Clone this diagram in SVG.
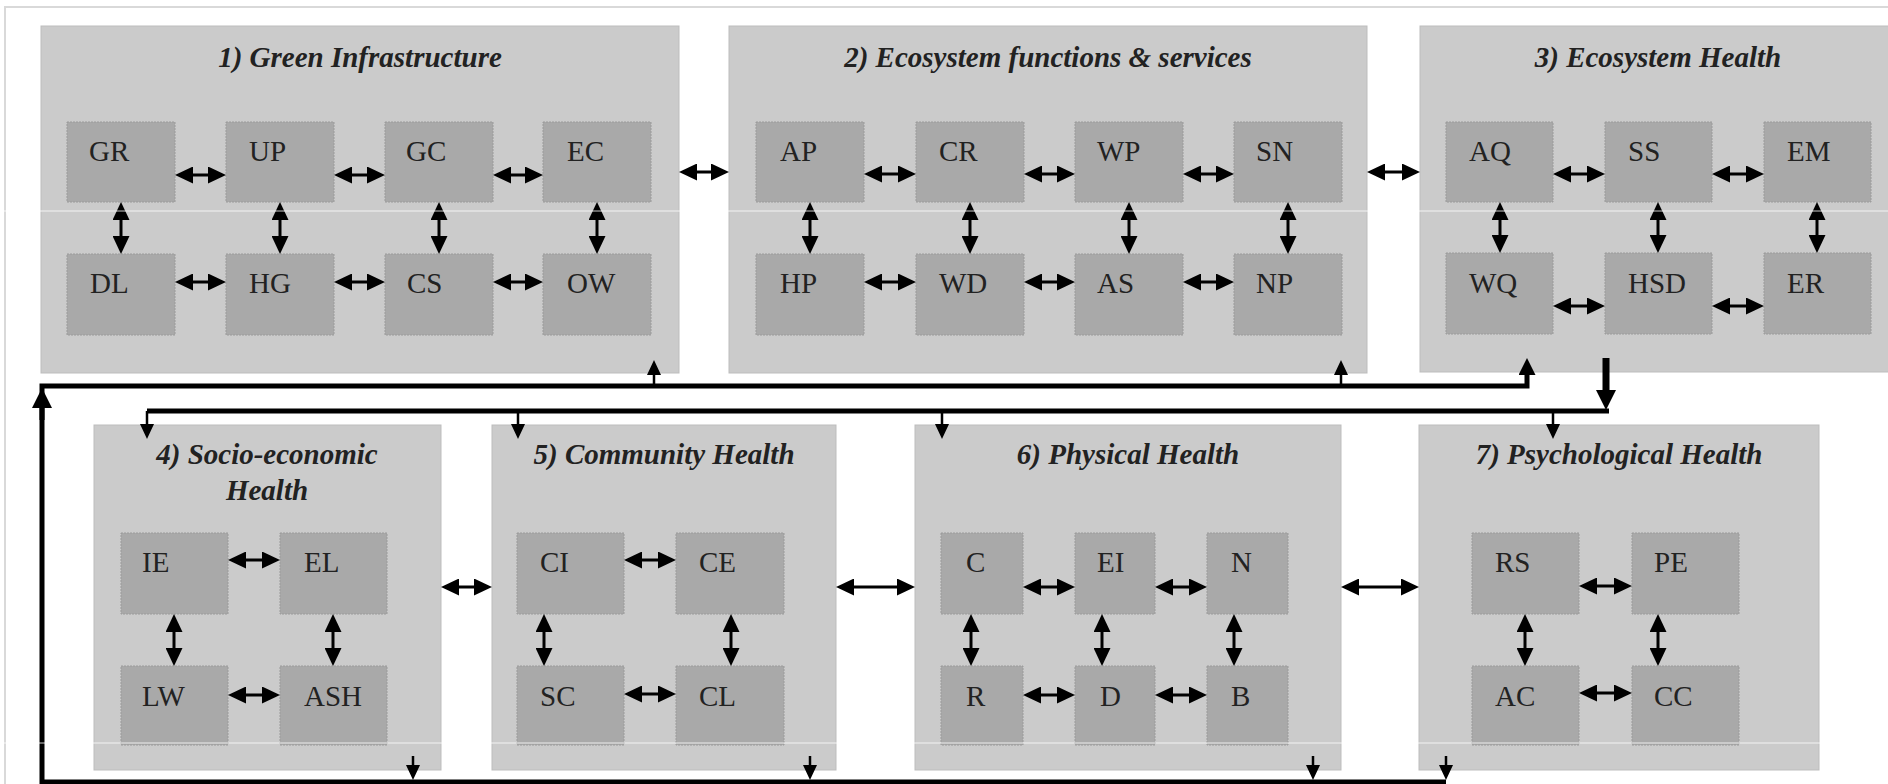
<svg xmlns="http://www.w3.org/2000/svg" width="1888" height="784" viewBox="0 0 1888 784">
<style>
.grp{fill:#cbcbcb;stroke:#bdbdbd;stroke-width:1}
.box{fill:#a9a9a9;stroke:#9b9b9b;stroke-width:1;stroke-dasharray:2 1}
.lbl{font-family:"Liberation Serif","Times New Roman",serif;font-size:29px;fill:#222}
.ttl{font-family:"Liberation Serif","Times New Roman",serif;font-size:29px;font-weight:bold;font-style:italic;fill:#222;text-anchor:middle}
.a2{stroke:#000;stroke-width:3;fill:none;marker-start:url(#ah);marker-end:url(#ah)}
.fb{stroke:#000;stroke-width:5;fill:none}
.br{stroke:#000;stroke-width:2.5;fill:none;marker-end:url(#ahs)}
.seam{stroke:#fff;stroke-width:1;opacity:0.8}
</style>
<defs>
<marker id="ah" viewBox="0 0 18 17" refX="14" refY="8.5" markerWidth="18" markerHeight="17" markerUnits="userSpaceOnUse" orient="auto-start-reverse"><path d="M0,0 L18,8.5 L0,17 z" fill="#000"/></marker>
<marker id="ahs" viewBox="0 0 15 14" refX="10" refY="7" markerWidth="15" markerHeight="14" markerUnits="userSpaceOnUse" orient="auto"><path d="M0,0 L15,7 L0,14 z" fill="#000"/></marker>
<marker id="ahm" viewBox="0 0 17 17" refX="8" refY="8.5" markerWidth="17" markerHeight="17" markerUnits="userSpaceOnUse" orient="auto"><path d="M0,0 L17,8.5 L0,17 z" fill="#000"/></marker>
<marker id="ahb" viewBox="0 0 20 20" refX="12" refY="10" markerWidth="20" markerHeight="20" markerUnits="userSpaceOnUse" orient="auto"><path d="M0,0 L20,10 L0,20 z" fill="#000"/></marker>
</defs>
<rect x="0" y="0" width="1888" height="784" fill="#fff"/>
<path d="M5,784 V7 H1888" stroke="#d9d9d9" stroke-width="2" fill="none"/>

<g id="g1">
<rect class="grp" x="41" y="26" width="638" height="347"/>
<text class="ttl" x="360" y="67">1) Green Infrastructure</text>
<g id="n-GR"><rect class="box" x="67" y="122" width="108" height="80"/><text class="lbl" x="89" y="161">GR</text></g>
<g id="n-UP"><rect class="box" x="226" y="122" width="108" height="80"/><text class="lbl" x="249" y="161">UP</text></g>
<g id="n-GC"><rect class="box" x="385" y="122" width="108" height="80"/><text class="lbl" x="406" y="161">GC</text></g>
<g id="n-EC"><rect class="box" x="543" y="122" width="108" height="80"/><text class="lbl" x="567" y="161">EC</text></g>
<g id="n-DL"><rect class="box" x="67" y="254" width="108" height="81"/><text class="lbl" x="90" y="293">DL</text></g>
<g id="n-HG"><rect class="box" x="226" y="254" width="108" height="81"/><text class="lbl" x="249" y="293">HG</text></g>
<g id="n-CS"><rect class="box" x="385" y="254" width="108" height="81"/><text class="lbl" x="407" y="293">CS</text></g>
<g id="n-OW"><rect class="box" x="543" y="254" width="108" height="81"/><text class="lbl" x="567" y="293">OW</text></g>
</g>

<g id="g2">
<rect class="grp" x="729" y="26" width="638" height="347"/>
<text class="ttl" x="1048" y="67">2) Ecosystem functions &amp; services</text>
<g id="n-AP"><rect class="box" x="756" y="122" width="108" height="80"/><text class="lbl" x="780" y="161">AP</text></g>
<g id="n-CR"><rect class="box" x="916" y="122" width="108" height="80"/><text class="lbl" x="939" y="161">CR</text></g>
<g id="n-WP"><rect class="box" x="1075" y="122" width="108" height="80"/><text class="lbl" x="1097" y="161">WP</text></g>
<g id="n-SN"><rect class="box" x="1234" y="122" width="108" height="80"/><text class="lbl" x="1256" y="161">SN</text></g>
<g id="n-HP"><rect class="box" x="756" y="254" width="108" height="81"/><text class="lbl" x="780" y="293">HP</text></g>
<g id="n-WD"><rect class="box" x="916" y="254" width="108" height="81"/><text class="lbl" x="939" y="293">WD</text></g>
<g id="n-AS"><rect class="box" x="1075" y="254" width="108" height="81"/><text class="lbl" x="1097" y="293">AS</text></g>
<g id="n-NP"><rect class="box" x="1234" y="254" width="108" height="81"/><text class="lbl" x="1256" y="293">NP</text></g>
</g>

<g id="g3">
<rect class="grp" x="1420" y="26" width="470" height="346"/>
<text class="ttl" x="1658" y="67">3) Ecosystem Health</text>
<g id="n-AQ"><rect class="box" x="1446" y="122" width="107" height="80"/><text class="lbl" x="1469" y="161">AQ</text></g>
<g id="n-SS"><rect class="box" x="1605" y="122" width="107" height="80"/><text class="lbl" x="1628" y="161">SS</text></g>
<g id="n-EM"><rect class="box" x="1764" y="122" width="107" height="80"/><text class="lbl" x="1787" y="161">EM</text></g>
<g id="n-WQ"><rect class="box" x="1446" y="253" width="107" height="81"/><text class="lbl" x="1469" y="293">WQ</text></g>
<g id="n-HSD"><rect class="box" x="1605" y="253" width="107" height="81"/><text class="lbl" x="1628" y="293">HSD</text></g>
<g id="n-ER"><rect class="box" x="1764" y="253" width="107" height="81"/><text class="lbl" x="1787" y="293">ER</text></g>
</g>

<g id="g4">
<rect class="grp" x="94" y="425" width="347" height="345"/>
<text class="ttl" x="267" y="464">4) Socio-economic</text>
<text class="ttl" x="267" y="500">Health</text>
<g id="n-IE"><rect class="box" x="121" y="533" width="107" height="81"/><text class="lbl" x="142" y="572">IE</text></g>
<g id="n-EL"><rect class="box" x="280" y="533" width="107" height="81"/><text class="lbl" x="304" y="572">EL</text></g>
<g id="n-LW"><rect class="box" x="121" y="666" width="107" height="79"/><text class="lbl" x="142" y="706">LW</text></g>
<g id="n-ASH"><rect class="box" x="280" y="666" width="107" height="79"/><text class="lbl" x="304" y="706">ASH</text></g>
</g>

<g id="g5">
<rect class="grp" x="492" y="425" width="344" height="345"/>
<text class="ttl" x="664" y="464">5) Community Health</text>
<g id="n-CI"><rect class="box" x="517" y="533" width="107" height="81"/><text class="lbl" x="540" y="572">CI</text></g>
<g id="n-CE"><rect class="box" x="676" y="533" width="108" height="81"/><text class="lbl" x="699" y="572">CE</text></g>
<g id="n-SC"><rect class="box" x="517" y="666" width="107" height="79"/><text class="lbl" x="540" y="706">SC</text></g>
<g id="n-CL"><rect class="box" x="676" y="666" width="108" height="79"/><text class="lbl" x="699" y="706">CL</text></g>
</g>

<g id="g6">
<rect class="grp" x="915" y="425" width="426" height="345"/>
<text class="ttl" x="1128" y="464">6) Physical Health</text>
<g id="n-C"><rect class="box" x="941" y="533" width="82" height="81"/><text class="lbl" x="966" y="572">C</text></g>
<g id="n-EI"><rect class="box" x="1075" y="533" width="80" height="81"/><text class="lbl" x="1097" y="572">EI</text></g>
<g id="n-N"><rect class="box" x="1207" y="533" width="81" height="81"/><text class="lbl" x="1231" y="572">N</text></g>
<g id="n-R"><rect class="box" x="941" y="666" width="82" height="79"/><text class="lbl" x="966" y="706">R</text></g>
<g id="n-D"><rect class="box" x="1075" y="666" width="80" height="79"/><text class="lbl" x="1100" y="706">D</text></g>
<g id="n-B"><rect class="box" x="1207" y="666" width="81" height="79"/><text class="lbl" x="1231" y="706">B</text></g>
</g>

<g id="g7">
<rect class="grp" x="1419" y="425" width="400" height="345"/>
<text class="ttl" x="1619" y="464">7) Psychological Health</text>
<g id="n-RS"><rect class="box" x="1472" y="533" width="107" height="81"/><text class="lbl" x="1495" y="572">RS</text></g>
<g id="n-PE"><rect class="box" x="1632" y="533" width="107" height="81"/><text class="lbl" x="1654" y="572">PE</text></g>
<g id="n-AC"><rect class="box" x="1472" y="666" width="107" height="79"/><text class="lbl" x="1495" y="706">AC</text></g>
<g id="n-CC"><rect class="box" x="1632" y="666" width="107" height="79"/><text class="lbl" x="1654" y="706">CC</text></g>
</g>

<g id="connectors">
<!-- group 1 -->
<line class="a2" x1="179" y1="175" x2="222" y2="175"/>
<line class="a2" x1="338" y1="175" x2="381" y2="175"/>
<line class="a2" x1="497" y1="175" x2="539" y2="175"/>
<line class="a2" x1="179" y1="282" x2="222" y2="282"/>
<line class="a2" x1="338" y1="282" x2="381" y2="282"/>
<line class="a2" x1="497" y1="282" x2="539" y2="282"/>
<line class="a2" x1="121" y1="206" x2="121" y2="250"/>
<line class="a2" x1="280" y1="206" x2="280" y2="250"/>
<line class="a2" x1="439" y1="206" x2="439" y2="250"/>
<line class="a2" x1="597" y1="206" x2="597" y2="250"/>
<!-- group 2 -->
<line class="a2" x1="868" y1="174" x2="912" y2="174"/>
<line class="a2" x1="1028" y1="174" x2="1071" y2="174"/>
<line class="a2" x1="1187" y1="174" x2="1230" y2="174"/>
<line class="a2" x1="868" y1="282" x2="912" y2="282"/>
<line class="a2" x1="1028" y1="282" x2="1071" y2="282"/>
<line class="a2" x1="1187" y1="282" x2="1230" y2="282"/>
<line class="a2" x1="810" y1="206" x2="810" y2="250"/>
<line class="a2" x1="970" y1="206" x2="970" y2="250"/>
<line class="a2" x1="1129" y1="206" x2="1129" y2="250"/>
<line class="a2" x1="1288" y1="206" x2="1288" y2="250"/>
<!-- group 3 -->
<line class="a2" x1="1557" y1="174" x2="1601" y2="174"/>
<line class="a2" x1="1716" y1="174" x2="1760" y2="174"/>
<line class="a2" x1="1557" y1="306" x2="1601" y2="306"/>
<line class="a2" x1="1716" y1="306" x2="1760" y2="306"/>
<line class="a2" x1="1500" y1="206" x2="1500" y2="249"/>
<line class="a2" x1="1658" y1="206" x2="1658" y2="249"/>
<line class="a2" x1="1817" y1="206" x2="1817" y2="249"/>
<!-- group 4 -->
<line class="a2" x1="232" y1="560" x2="276" y2="560"/>
<line class="a2" x1="232" y1="695" x2="276" y2="695"/>
<line class="a2" x1="174" y1="618" x2="174" y2="662"/>
<line class="a2" x1="333" y1="618" x2="333" y2="662"/>
<!-- group 5 -->
<line class="a2" x1="628" y1="560" x2="672" y2="560"/>
<line class="a2" x1="628" y1="694" x2="672" y2="694"/>
<line class="a2" x1="544" y1="618" x2="544" y2="662"/>
<line class="a2" x1="731" y1="618" x2="731" y2="662"/>
<!-- group 6 -->
<line class="a2" x1="1027" y1="587" x2="1071" y2="587"/>
<line class="a2" x1="1159" y1="587" x2="1203" y2="587"/>
<line class="a2" x1="1027" y1="695" x2="1071" y2="695"/>
<line class="a2" x1="1159" y1="695" x2="1203" y2="695"/>
<line class="a2" x1="971" y1="618" x2="971" y2="662"/>
<line class="a2" x1="1102" y1="618" x2="1102" y2="662"/>
<line class="a2" x1="1234" y1="618" x2="1234" y2="662"/>
<!-- group 7 -->
<line class="a2" x1="1583" y1="586" x2="1628" y2="586"/>
<line class="a2" x1="1583" y1="693" x2="1628" y2="693"/>
<line class="a2" x1="1525" y1="618" x2="1525" y2="662"/>
<line class="a2" x1="1658" y1="618" x2="1658" y2="662"/>
<!-- between groups -->
<line class="a2" x1="683" y1="172" x2="725" y2="172"/>
<line class="a2" x1="1371" y1="172" x2="1416" y2="172"/>
<line class="a2" x1="445" y1="587" x2="488" y2="587"/>
<line class="a2" x1="840" y1="587" x2="911" y2="587"/>
<line class="a2" x1="1345" y1="587" x2="1415" y2="587"/>
<!-- feedback loop: bottom groups back to top groups -->
<path class="fb" d="M1446,782 H42 V386 H1527 V367" marker-end="url(#ahm)"/>
<path class="fb" d="M42,420 V396" marker-end="url(#ahb)"/>
<line class="br" x1="654" y1="386" x2="654" y2="365"/>
<line class="br" x1="1341" y1="386" x2="1341" y2="365"/>
<line class="br" x1="413" y1="756" x2="413" y2="775"/>
<line class="br" x1="810" y1="756" x2="810" y2="775"/>
<line class="br" x1="1313" y1="756" x2="1313" y2="775"/>
<line class="br" x1="1446" y1="756" x2="1446" y2="775"/>
<!-- ecosystem health down to lower groups -->
<path d="M1606,358 V402" stroke="#000" stroke-width="7" fill="none" marker-end="url(#ahb)"/>
<path class="fb" d="M147,411 H1609"/>
<line class="br" x1="147" y1="411" x2="147" y2="434"/>
<line class="br" x1="518" y1="411" x2="518" y2="434"/>
<line class="br" x1="942" y1="411" x2="942" y2="434"/>
<line class="br" x1="1553" y1="411" x2="1553" y2="434"/>
</g>
<line class="seam" x1="0" y1="211" x2="1888" y2="211"/>
<line class="seam" x1="0" y1="743" x2="1888" y2="743"/>
</svg>
